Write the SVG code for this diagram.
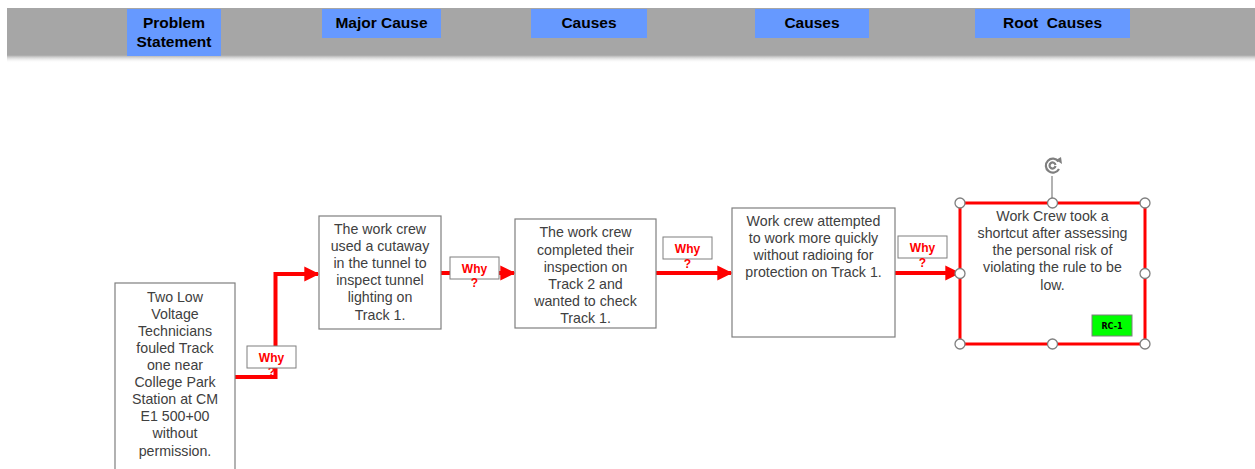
<svg xmlns="http://www.w3.org/2000/svg" width="1255" height="469" viewBox="0 0 1255 469">
  <defs>
    <linearGradient id="bandShadow" x1="0" y1="0" x2="0" y2="1">
      <stop offset="0" stop-color="#8c8c8c" stop-opacity="0.8"/>
      <stop offset="1" stop-color="#ffffff" stop-opacity="0"/>
    </linearGradient>
    <marker id="arrow" viewBox="0 0 10 10" refX="9" refY="5" markerWidth="3.8" markerHeight="3.8" orient="auto" markerUnits="strokeWidth">
      <path d="M0,0 L10,5 L0,10 Z" fill="#ff0000"/>
    </marker>
    <style>
      .band { fill: #a6a6a6; }
      .head { fill: #6699ff; }
      .headtxt { font-family: "Liberation Sans", Arial, sans-serif; font-weight: bold; font-size: 15.5px; fill: #000; text-anchor: middle; }
      .box { fill: #ffffff; stroke: #7f7f7f; stroke-width: 1.2; }
      .txt { font-family: "Liberation Sans", Arial, sans-serif; font-size: 14.2px; fill: #404040; text-anchor: middle; }
      .link { fill: none; stroke: #ff0000; stroke-width: 4; marker-end: url(#arrow); }
      .whybox { fill: #ffffff; stroke: #7f7f7f; stroke-width: 1; }
      .why { font-family: "Liberation Sans", Arial, sans-serif; font-weight: bold; font-size: 12px; fill: #ff0000; text-anchor: middle; }
      .handle { fill: #ffffff; stroke: #7f7f7f; stroke-width: 1.3; }
    </style>
  </defs>

  <rect width="1255" height="469" fill="#ffffff"/>

  <!-- header band -->
  <g id="header">
    <rect x="7" y="55" width="1248" height="8" fill="url(#bandShadow)"/>
    <rect class="band" x="7" y="8" width="1248" height="47"/>
    <rect class="head" x="127" y="9" width="94" height="47"/>
    <text class="headtxt" x="174" y="28">Problem</text>
    <text class="headtxt" x="174" y="47">Statement</text>
    <rect class="head" x="322" y="9" width="119" height="29"/>
    <text class="headtxt" x="381.5" y="28">Major Cause</text>
    <rect class="head" x="531" y="9" width="116" height="29"/>
    <text class="headtxt" x="589" y="28">Causes</text>
    <rect class="head" x="755" y="9" width="114" height="29"/>
    <text class="headtxt" x="812" y="28">Causes</text>
    <rect class="head" x="975" y="9" width="155" height="29"/>
    <text class="headtxt" x="1052.5" y="28" xml:space="preserve">Root  Causes</text>
  </g>

  <!-- connectors -->
  <g id="connectors">
    <path class="link" d="M235,377 H275.5 V274 H318"/>
    <path class="link" d="M441,273 H514"/>
    <path class="link" d="M656,273 H731"/>
    <path class="link" d="M895,273 H959"/>
  </g>

  <!-- why labels -->
  <g id="why1">
    <text class="why" x="271.5" y="376">?</text>
    <rect class="whybox" x="247" y="346" width="49" height="22"/>
    <text class="why" x="271.5" y="362">Why</text>
  </g>
  <g id="why2">
    <rect class="whybox" x="450" y="257" width="49" height="22"/>
    <text class="why" x="474.5" y="273">Why</text>
    <text class="why" x="474.5" y="287">?</text>
  </g>
  <g id="why3">
    <rect class="whybox" x="663" y="237" width="49" height="22"/>
    <text class="why" x="687.5" y="253">Why</text>
    <text class="why" x="687.5" y="268">?</text>
  </g>
  <g id="why4">
    <rect class="whybox" x="898" y="236" width="49" height="22"/>
    <text class="why" x="922.5" y="252">Why</text>
    <text class="why" x="922.5" y="267">?</text>
  </g>

  <!-- problem statement -->
  <g id="problem">
    <rect class="box" x="115" y="283" width="120" height="190"/>
    <text class="txt" x="175" y="302">Two Low</text>
    <text class="txt" x="175" y="319">Voltage</text>
    <text class="txt" x="175" y="336">Technicians</text>
    <text class="txt" x="175" y="353">fouled Track</text>
    <text class="txt" x="175" y="370">one near</text>
    <text class="txt" x="175" y="387">College Park</text>
    <text class="txt" x="175" y="404">Station at CM</text>
    <text class="txt" x="175" y="421">E1 500+00</text>
    <text class="txt" x="175" y="438">without</text>
    <text class="txt" x="175" y="456">permission.</text>
  </g>

  <!-- major cause -->
  <g id="major-cause">
    <rect class="box" x="319" y="216" width="122" height="113"/>
    <text class="txt" x="380" y="234">The work crew</text>
    <text class="txt" x="380" y="251">used a cutaway</text>
    <text class="txt" x="380" y="268">in the tunnel to</text>
    <text class="txt" x="380" y="285">inspect tunnel</text>
    <text class="txt" x="380" y="302">lighting on</text>
    <text class="txt" x="380" y="320">Track 1.</text>
  </g>

  <!-- cause 1 -->
  <g id="cause-1">
    <rect class="box" x="515" y="219" width="141" height="109"/>
    <text class="txt" x="585.5" y="237">The work crew</text>
    <text class="txt" x="585.5" y="255">completed their</text>
    <text class="txt" x="585.5" y="272">inspection on</text>
    <text class="txt" x="585.5" y="289">Track 2 and</text>
    <text class="txt" x="585.5" y="306">wanted to check</text>
    <text class="txt" x="585.5" y="323">Track 1.</text>
  </g>

  <!-- cause 2 -->
  <g id="cause-2">
    <rect class="box" x="732" y="208" width="163" height="129"/>
    <text class="txt" x="813.5" y="226">Work crew attempted</text>
    <text class="txt" x="813.5" y="243">to work more quickly</text>
    <text class="txt" x="813.5" y="260">without radioing for</text>
    <text class="txt" x="813.5" y="277">protection on Track 1.</text>
  </g>

  <!-- root cause (selected shape with handles) -->
  <g id="root-cause">
    <rect x="960" y="203" width="185" height="141" fill="#ffffff" stroke="#ff0000" stroke-width="3"/>
    <text class="txt" x="1052.5" y="221">Work Crew took a</text>
    <text class="txt" x="1052.5" y="238">shortcut after assessing</text>
    <text class="txt" x="1052.5" y="255">the personal risk of</text>
    <text class="txt" x="1052.5" y="272">violating the rule to be</text>
    <text class="txt" x="1052.5" y="290">low.</text>
    <rect x="1092" y="315" width="40" height="21" fill="#00ff00" stroke="#7f7f7f" stroke-width="1"/>
    <text x="1112" y="329" font-family="'DejaVu Sans', sans-serif" font-size="8" font-weight="bold" fill="#000" text-anchor="middle">RC-1</text>
    <line x1="1052" y1="176" x2="1052" y2="203" stroke="#7f7f7f" stroke-width="1.2"/>
    <g fill="none" stroke="#7f7f7f" stroke-width="2.2">
      <path d="M1058.5,161.5 A7,7 0 1 0 1059,169"/>
      <path d="M1055.5,165 A3,3 0 1 0 1055.5,166"/>
    </g>
    <path d="M1056,160 L1062,164 L1061,157 Z" fill="#7f7f7f"/>
    <circle class="handle" cx="960" cy="203" r="5"/>
    <circle class="handle" cx="1052.5" cy="203" r="5"/>
    <circle class="handle" cx="1145" cy="203" r="5"/>
    <circle class="handle" cx="960" cy="273.5" r="5"/>
    <circle class="handle" cx="1145" cy="273.5" r="5"/>
    <circle class="handle" cx="960" cy="344" r="5"/>
    <circle class="handle" cx="1052.5" cy="344" r="5"/>
    <circle class="handle" cx="1145" cy="344" r="5"/>
  </g>
</svg>
